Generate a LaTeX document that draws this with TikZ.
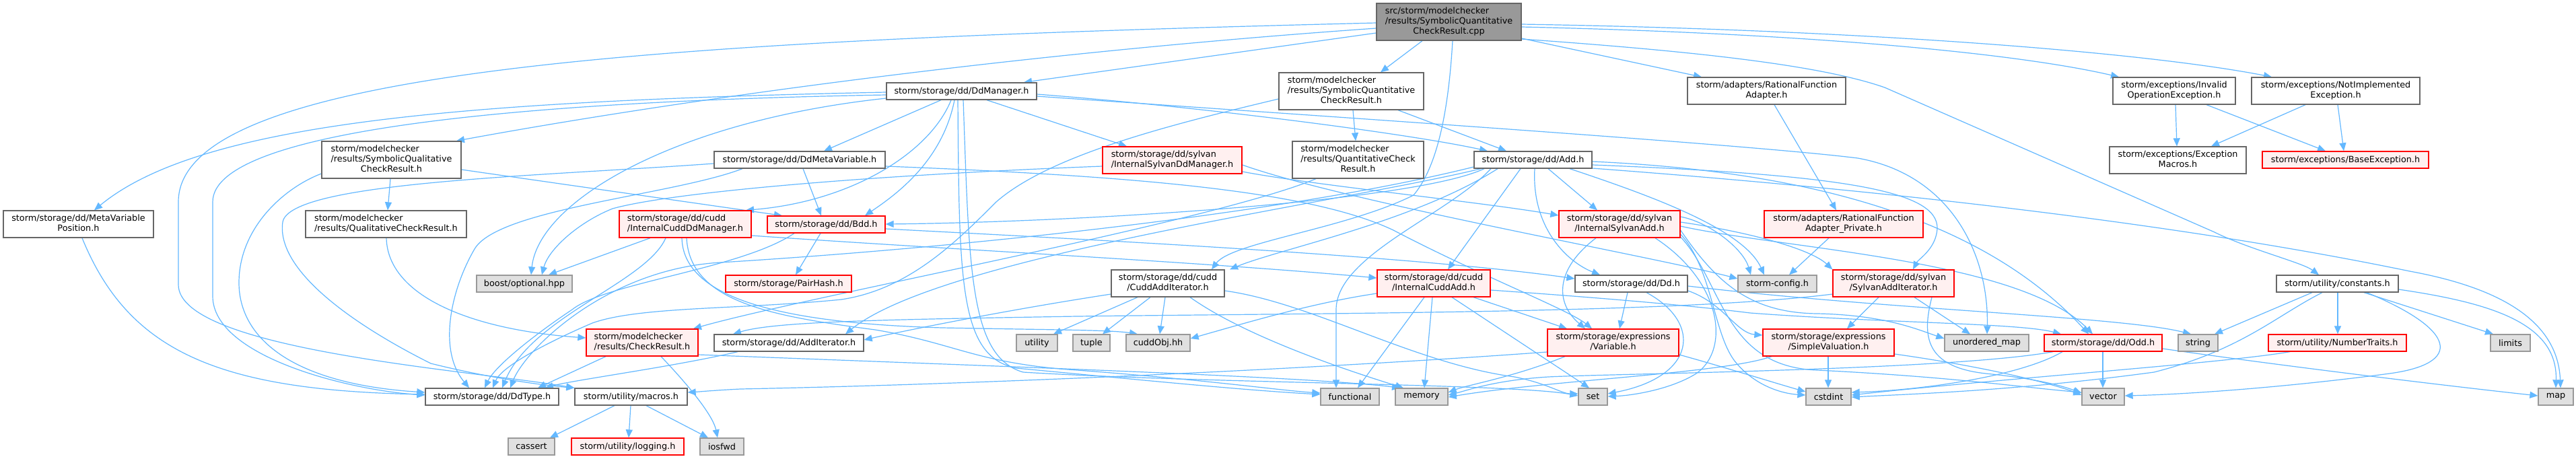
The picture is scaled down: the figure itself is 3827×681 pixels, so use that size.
\documentclass[tikz,border=0pt]{standalone}
\usepackage{fontspec}
\setmainfont{DejaVu Sans}
\usetikzlibrary{arrows.meta}
\definecolor{ec}{HTML}{63B8FF}
\definecolor{bc}{HTML}{666666}
\definecolor{gbc}{HTML}{999999}
\definecolor{gfc}{HTML}{E0E0E0}
\definecolor{rfc}{HTML}{FFF0F0}
\definecolor{rootf}{HTML}{999999}
\newcommand\fsz{\fontsize{6.4}{7.5}\selectfont}
\newcommand\mlab[2]{\begin{tabular}{@{}l@{}}#1\\\multicolumn{1}{@{}c@{}}{#2}\end{tabular}}
\newcommand\nd[7]{\node[#2, minimum width={(#5-#3)*0.5pt}, minimum height={(#6-#4)*0.5pt}] (#1) at ({(#3+#5)/2},{-(#4+#6)/2}) {#7};}
\pgfdeclarelayer{bg}
\pgfsetlayers{bg,main}
\begin{document}
\begin{tikzpicture}[x=0.5pt,y=0.5pt,
  nbase/.style={rectangle, line width=0.65pt, inner sep=0pt, font=\fsz, text=black},
  nbox/.style={nbase, draw=bc, fill=white},
  nred/.style={nbase, draw=red, fill=rfc},
  ngray/.style={nbase, draw=gbc, fill=gfc},
  nroot/.style={nbase, draw=bc, fill=rootf},
  lnk/.style={draw=ec, line width=0.6pt, -{Triangle[length=6pt,width=5pt]}}]
\useasboundingbox (0,0) rectangle (3827,-681);
% nodes
\nd{root}{nroot}{2045}{5}{2260}{60}{\mlab{src/storm/modelchecker\\/results/SymbolicQuantitative}{CheckResult.cpp}}
\nd{ddman}{nbox}{1317}{123}{1540}{148}{storm/storage/dd/DdManager.h}
\nd{sqch}{nbox}{1900}{108}{2115}{163}{\mlab{storm/modelchecker\\/results/SymbolicQuantitative}{CheckResult.h}}
\nd{rfa}{nbox}{2507}{115}{2742}{155}{\mlab{storm/adapters/RationalFunction}{Adapter.h}}
\nd{invop}{nbox}{3139}{115}{3321}{155}{\mlab{storm/exceptions/Invalid}{OperationException.h}}
\nd{notimpl}{nbox}{3345}{115}{3595}{155}{\mlab{storm/exceptions/NotImplemented}{Exception.h}}
\nd{sqlh}{nbox}{478}{210}{685}{265}{\mlab{storm/modelchecker\\/results/SymbolicQualitative}{CheckResult.h}}
\nd{ddmv}{nbox}{1061}{225}{1315}{250}{storm/storage/dd/DdMetaVariable.h}
\nd{isddm}{nred}{1638}{218}{1845}{258}{\mlab{storm/storage/dd/sylvan}{/InternalSylvanDdManager.h}}
\nd{qch}{nbox}{1920}{210}{2115}{265}{\mlab{storm/modelchecker\\/results/QuantitativeCheck}{Result.h}}
\nd{add}{nbox}{2190}{225}{2365}{250}{storm/storage/dd/Add.h}
\nd{exmac}{nbox}{3134}{218}{3337}{258}{\mlab{storm/exceptions/Exception}{Macros.h}}
\nd{baseex}{nred}{3361}{225}{3608}{250}{storm/exceptions/BaseException.h}
\nd{mvp}{nbox}{5}{313}{228}{353}{\mlab{storm/storage/dd/MetaVariable}{Position.h}}
\nd{qlch}{nbox}{454}{313}{693}{353}{\mlab{storm/modelchecker}{/results/QualitativeCheckResult.h}}
\nd{icddm}{nred}{920}{313}{1116}{353}{\mlab{storm/storage/dd/cudd}{/InternalCuddDdManager.h}}
\nd{bdd}{nred}{1140}{321}{1315}{346}{storm/storage/dd/Bdd.h}
\nd{isadd}{nred}{2316}{313}{2496}{353}{\mlab{storm/storage/dd/sylvan}{/InternalSylvanAdd.h}}
\nd{rfap}{nred}{2621}{313}{2857}{353}{\mlab{storm/adapters/RationalFunction}{Adapter\_Private.h}}
\nd{boost}{ngray}{708}{409}{850}{434}{boost/optional.hpp}
\nd{pair}{nred}{1078}{409}{1265}{434}{storm/storage/PairHash.h}
\nd{cai}{nbox}{1651}{401}{1819}{441}{\mlab{storm/storage/dd/cudd}{/CuddAddIterator.h}}
\nd{icadd}{nred}{2046}{401}{2214}{441}{\mlab{storm/storage/dd/cudd}{/InternalCuddAdd.h}}
\nd{dd}{nbox}{2340}{409}{2507}{434}{storm/storage/dd/Dd.h}
\nd{cfg}{ngray}{2582}{409}{2699}{434}{storm-config.h}
\nd{sai}{nred}{2723}{401}{2903}{441}{\mlab{storm/storage/dd/sylvan}{/SylvanAddIterator.h}}
\nd{const}{nbox}{3382}{409}{3563}{434}{storm/utility/constants.h}
\nd{chk}{nred}{871}{489}{1037}{529}{\mlab{storm/modelchecker}{/results/CheckResult.h}}
\nd{ai}{nbox}{1061}{497}{1283}{522}{storm/storage/dd/AddIterator.h}
\nd{util}{ngray}{1510}{497}{1571}{522}{utility}
\nd{tuple}{ngray}{1594}{497}{1649}{522}{tuple}
\nd{cuddobj}{ngray}{1673}{497}{1768}{522}{cuddObj.hh}
\nd{var}{nred}{2299}{489}{2494}{529}{\mlab{storm/storage/expressions}{/Variable.h}}
\nd{sval}{nred}{2619}{489}{2814}{529}{\mlab{storm/storage/expressions}{/SimpleValuation.h}}
\nd{umap}{ngray}{2889}{497}{3014}{522}{unordered\_map}
\nd{odd}{nred}{3037}{497}{3212}{522}{storm/storage/dd/Odd.h}
\nd{string}{ngray}{3236}{497}{3295}{522}{string}
\nd{numtr}{nred}{3370}{497}{3575}{522}{storm/utility/NumberTraits.h}
\nd{limits}{ngray}{3700}{497}{3759}{522}{limits}
\nd{ddtype}{nbox}{632}{577}{830}{602}{storm/storage/dd/DdType.h}
\nd{macros}{nbox}{854}{577}{1021}{602}{storm/utility/macros.h}
\nd{func}{ngray}{1962}{577}{2049}{602}{functional}
\nd{mem}{ngray}{2073}{577}{2151}{602}{memory}
\nd{set}{ngray}{2345}{577}{2388}{602}{set}
\nd{cstdint}{ngray}{2683}{577}{2750}{602}{cstdint}
\nd{vector}{ngray}{3093}{577}{3156}{602}{vector}
\nd{map}{ngray}{3771}{577}{3823}{602}{map}
\nd{cassert}{ngray}{755}{651}{824}{676}{cassert}
\nd{logging}{nred}{849}{651}{1016}{676}{storm/utility/logging.h}
\nd{iosfwd}{ngray}{1040}{651}{1105}{676}{iosfwd}
\begin{pgfonlayer}{bg}
\fill[white] (0,0) rectangle (3827,-681);
% root
\draw[lnk] (root.south -| 2113,0) -- (sqch.north -| 2051,0);
\draw[lnk] (root.west |- 0,-49) -- (ddman.north -| 1521,0);
\draw[lnk] (root.west |- 0,-42) .. controls (1500,-80) and (1000,-150) .. (sqlh.north -| 678,0);
\draw[lnk] (root.west |- 0,-34) .. controls (1000,-60) and (265,-100) .. (265,-300) -- (265,-423) .. controls (265,-520) and (700,-550) .. (macros.north west);
\draw[lnk] (root.south -| 2158,0) .. controls (2150,-200) and (2125,-260) .. (2100,-290) .. controls (2000,-340) and (1830,-360) .. (cai.north -| 1800,0);
\draw[lnk] (root.east |- 0,-57) -- (rfa.north -| 2528,0);
\draw[lnk] (root.east |- 0,-40) .. controls (2700,-50) and (3000,-80) .. (invop.north -| 3148,0);
\draw[lnk] (root.east |- 0,-36) .. controls (2800,-45) and (3200,-80) .. (notimpl.north -| 3375,0);
\draw[lnk] (root.east |- 0,-58) .. controls (2500,-75) and (2700,-95) .. (2800,-130) -- (3290,-345) .. controls (3340,-370) and (3420,-390) .. (const.north -| 3445,0);
% ddman
\draw[lnk] (ddman.west |- 0,-137) .. controls (700,-150) and (300,-180) .. (mvp.north -| 140,0);
\draw[lnk] (ddman.west |- 0,-141) .. controls (800,-150) and (316,-190) .. (316,-300) -- (316,-440) .. controls (316,-530) and (520,-580) .. (ddtype.west |- 0,-587);
\draw[lnk] (ddman.south -| 1398,0) -- (ddmv.north -| 1224,0);
\draw[lnk] (ddman.south -| 1466,0) -- (isddm.north -| 1674,0);
\draw[lnk] (ddman.east |- 0,-140) .. controls (1800,-160) and (2100,-200) .. (add.north -| 2210,0);
\draw[lnk] (ddman.south -| 1413,0) .. controls (1380,-230) and (1260,-300) .. (icddm.north -| 1108,0);
\draw[lnk] (ddman.south -| 1418,0) .. controls (1400,-240) and (1330,-290) .. (bdd.north -| 1285,0);
\draw[lnk] (ddman.west |- 0,-146) .. controls (1000,-180) and (800,-300) .. (boost.north -| 789,0);
\draw[lnk] (ddman.east |- 0,-143) .. controls (2000,-175) and (2600,-215) .. (2760,-235) .. controls (2900,-260) and (2955,-380) .. (umap.north -| 2952,0);
\draw[lnk] (ddman.south -| 1423,0) .. controls (1425,-420) and (1425,-530) .. (1510,-547) .. controls (1700,-565) and (1850,-580) .. (func.west |- 0,-586);
\draw[lnk] (ddman.south -| 1431,0) .. controls (1440,-400) and (1440,-530) .. (1520,-553) .. controls (1800,-570) and (2250,-570) .. (set.west |- 0,-588);
% sqch
\draw[lnk] (sqch.south -| 2010,0) -- (qch.north -| 2014,0);
\draw[lnk] (sqch.south -| 2077,0) -- (add.north -| 2238,0);
\draw[lnk] (sqch.west |- 0,-147) .. controls (1740,-185) and (1560,-230) .. (1480,-300) .. controls (1420,-360) and (1350,-430) .. (1250,-445) .. controls (1100,-460) and (950,-455) .. (880,-480) .. controls (810,-510) and (745,-545) .. (ddtype.north -| 732,0);
% sqlh
\draw[lnk] (sqlh.south -| 580,0) -- (qlch.north -| 576,0);
\draw[lnk] (sqlh.east |- 0,-252) -- (bdd.north -| 1162,0);
\draw[lnk] (sqlh.west |- 0,-258) .. controls (420,-280) and (355,-340) .. (355,-420) .. controls (355,-500) and (430,-570) .. (ddtype.west |- 0,-583);
% ddmv
\draw[lnk] (ddmv.south -| 1193,0) -- (bdd.north -| 1220,0);
\draw[lnk] (ddmv.south -| 1103,0) .. controls (1000,-290) and (740,-310) .. (705,-370) .. controls (670,-430) and (650,-520) .. (ddtype.north -| 697,0);
\draw[lnk] (ddmv.east |- 0,-247) .. controls (1700,-262) and (1950,-285) .. (2070,-342) .. controls (2200,-410) and (2330,-460) .. (var.north -| 2365,0);
\draw[lnk] (ddmv.west |- 0,-243) .. controls (800,-262) and (430,-270) .. (420,-330) .. controls (410,-400) and (520,-480) .. (640,-540) .. controls (720,-560) and (800,-572) .. (macros.north west);
% isddm
\draw[lnk] (isddm.west |- 0,-247) .. controls (1300,-260) and (1000,-285) .. (910,-310) .. controls (860,-330) and (815,-370) .. (boost.north -| 805,0);
\draw[lnk] (isddm.east |- 0,-255) .. controls (1950,-275) and (2200,-300) .. (isadd.west |- 0,-320);
\draw[lnk] (isddm.east |- 0,-245) .. controls (2000,-300) and (2450,-380) .. (cfg.west |- 0,-414);
% qch qlch mvp
\draw[lnk] (qch.south -| 1955,0) .. controls (1800,-330) and (1200,-440) .. (chk.north -| 1030,0);
\draw[lnk] (qlch.south -| 574,0) .. controls (576,-440) and (700,-490) .. (chk.west |- 0,-502);
\draw[lnk] (mvp.south -| 122,0) .. controls (190,-520) and (320,-580) .. (ddtype.west |- 0,-586);
% add
\draw[lnk] (add.south -| 2205,0) .. controls (2100,-300) and (1600,-330) .. (bdd.east |- 0,-333);
\draw[lnk] (add.south -| 2259,0) -- (icadd.north -| 2151,0);
\draw[lnk] (add.south -| 2280,0) .. controls (2275,-340) and (2330,-390) .. (dd.north -| 2377,0);
\draw[lnk] (add.south -| 2300,0) -- (isadd.north -| 2373,0);
\draw[lnk] (add.south -| 2225,0) .. controls (2100,-330) and (1900,-370) .. (cai.north -| 1827,0);
\draw[lnk] (add.east |- 0,-245) .. controls (2750,-260) and (2880,-285) .. (2878,-340) .. controls (2876,-370) and (2850,-385) .. (sai.north -| 2842,0);
\draw[lnk] (add.east |- 0,-240) .. controls (2700,-255) and (2950,-330) .. (odd.north -| 3103,0);
\draw[lnk] (add.south -| 2332,0) .. controls (2450,-290) and (2590,-340) .. (cfg.north -| 2621,0);
\draw[lnk] (add.south -| 2200,0) .. controls (2000,-300) and (1400,-380) .. (ai.north -| 1256,0);
\draw[lnk] (add.east |- 0,-250) .. controls (2900,-290) and (3300,-345) .. (3580,-403) .. controls (3700,-425) and (3800,-470) .. (map.north -| 3804,0);
\draw[lnk] (add.west |- 0,-248) .. controls (1900,-320) and (1400,-370) .. (1070,-390) .. controls (900,-400) and (780,-520) .. (ddtype.north -| 758,0);
\draw[lnk] (add.south -| 2215,0) .. controls (2150,-320) and (1985,-380) .. (1985,-460) -- (func.north -| 1985,0);
% exceptions, adapters
\draw[lnk] (rfa.south -| 2636,0) -- (rfap.north -| 2728,0);
\draw[lnk] (invop.south -| 3232,0) -- (exmac.north -| 3234,0);
\draw[lnk] (invop.south -| 3278,0) -- (baseex.north -| 3455,0);
\draw[lnk] (notimpl.south -| 3425,0) -- (exmac.north -| 3285,0);
\draw[lnk] (notimpl.south -| 3473,0) -- (baseex.north -| 3482,0);
% icddm
\draw[lnk] (icddm.south -| 966,0) -- (boost.north -| 815,0);
\draw[lnk] (icddm.south -| 989,0) .. controls (960,-420) and (790,-470) .. (ddtype.north -| 746,0);
\draw[lnk] (icddm.east |- 0,-350) .. controls (1400,-370) and (1800,-390) .. (icadd.west |- 0,-413);
\draw[lnk] (icddm.south -| 1013,0) .. controls (1015,-440) and (1150,-480) .. (1400,-487) .. controls (1550,-490) and (1650,-490) .. (cuddobj.north -| 1690,0);
\draw[lnk] (icddm.south -| 1020,0) .. controls (1025,-450) and (1150,-470) .. (1300,-490) .. controls (1420,-510) and (1450,-540) .. (1600,-550) .. controls (1800,-565) and (1900,-580) .. (func.west |- 0,-584);
% bdd
\draw[lnk] (bdd.south -| 1219,0) -- (pair.north -| 1182,0);
\draw[lnk] (bdd.east |- 0,-340) .. controls (1600,-355) and (2100,-380) .. (dd.west |- 0,-414);
\draw[lnk] (bdd.south -| 1180,0) .. controls (1100,-400) and (900,-420) .. (850,-460) .. controls (790,-500) and (735,-545) .. (ddtype.north -| 720,0);
% isadd
\draw[lnk] (isadd.south -| 2371,0) .. controls (2310,-400) and (2310,-450) .. (var.north -| 2355,0);
\draw[lnk] (isadd.south -| 2459,0) .. controls (2560,-420) and (2570,-520) .. (2520,-555) .. controls (2480,-580) and (2420,-588) .. (set.east |- 0,-589);
\draw[lnk] (isadd.east |- 0,-322) .. controls (2540,-330) and (2590,-370) .. (cfg.north -| 2601,0);
\draw[lnk] (isadd.east |- 0,-330) .. controls (2600,-345) and (2690,-370) .. (sai.north west);
\draw[lnk] (isadd.east |- 0,-336) .. controls (2650,-370) and (3000,-385) .. (odd.north -| 3109,0);
\draw[lnk] (isadd.east |- 0,-342) .. controls (2550,-420) and (2600,-465) .. (2700,-466) .. controls (2800,-468) and (2850,-490) .. (umap.west |- 0,-503);
\draw[lnk] (isadd.east |- 0,-348) .. controls (2545,-400) and (2545,-500) .. (2580,-540) .. controls (2610,-575) and (2650,-585) .. (cstdint.west |- 0,-587);
\draw[lnk] (isadd.east |- 0,-352) .. controls (2560,-420) and (2560,-545) .. (2700,-550) .. controls (2900,-560) and (3000,-575) .. (vector.west |- 0,-583);
% dd
\draw[lnk] (dd.south -| 2418,0) -- (var.north -| 2406,0);
\draw[lnk] (dd.south -| 2446,0) .. controls (2530,-480) and (2520,-560) .. (set.east |- 0,-585);
\draw[lnk] (dd.east |- 0,-425) .. controls (2800,-460) and (3150,-470) .. (string.north -| 3255,0);
\draw[lnk] (dd.east |- 0,-432) .. controls (2560,-450) and (2580,-495) .. (sval.west |- 0,-498);
% icadd
\draw[lnk] (icadd.west |- 0,-436) .. controls (1950,-450) and (1850,-480) .. (cuddobj.east |- 0,-503);
\draw[lnk] (icadd.south -| 2116,0) -- (func.north -| 2017,0);
\draw[lnk] (icadd.south -| 2128,0) -- (mem.north -| 2116,0);
\draw[lnk] (icadd.south -| 2157,0) -- (set.north -| 2361,0);
\draw[lnk] (icadd.south -| 2189,0) -- (var.north -| 2328,0);
\draw[lnk] (icadd.east |- 0,-431) .. controls (2400,-444) and (2520,-455) .. (2600,-465) .. controls (2800,-480) and (3000,-480) .. (odd.north -| 3062,0);
% cai
\draw[lnk] (cai.south -| 1690,0) -- (util.north -| 1565,0);
\draw[lnk] (cai.south -| 1709,0) -- (tuple.north -| 1638,0);
\draw[lnk] (cai.south -| 1731,0) -- (cuddobj.north -| 1723,0);
\draw[lnk] (cai.west |- 0,-437) .. controls (1500,-460) and (1350,-490) .. (ai.east |- 0,-505);
\draw[lnk] (cai.south -| 1768,0) .. controls (1850,-500) and (2000,-550) .. (mem.north -| 2085,0);
\draw[lnk] (cai.east |- 0,-432) .. controls (1950,-450) and (2100,-540) .. (2250,-560) .. controls (2300,-570) and (2320,-585) .. (set.west |- 0,-585);
% sai
\draw[lnk] (sai.south -| 2791,0) -- (sval.north -| 2744,0);
\draw[lnk] (sai.south -| 2844,0) -- (umap.north -| 2927,0);
\draw[lnk] (sai.west |- 0,-437) .. controls (2500,-465) and (2000,-465) .. (1600,-470) .. controls (1300,-475) and (1150,-478) .. (ai.north -| 1089,0);
\draw[lnk] (sai.south -| 2870,0) .. controls (2855,-500) and (2860,-545) .. (2950,-555) .. controls (3020,-562) and (3060,-572) .. (vector.west |- 0,-584);
% const
\draw[lnk] (const.south -| 3435,0) -- (string.north -| 3290,0);
\draw[lnk] (const.south -| 3473,0) -- (numtr.north -| 3473,0);
\draw[lnk] (const.south -| 3512,0) -- (limits.north -| 3704,0);
\draw[lnk] (const.east |- 0,-430) .. controls (3700,-450) and (3800,-480) .. (map.north -| 3797,0);
\draw[lnk] (const.south -| 3450,0) .. controls (3380,-470) and (3330,-520) .. (3200,-553) .. controls (3000,-580) and (2850,-585) .. (cstdint.east |- 0,-590);
\draw[lnk] (const.south -| 3516,0) .. controls (3650,-490) and (3660,-540) .. (3550,-555) .. controls (3400,-575) and (3250,-586) .. (vector.east |- 0,-588);
% lower rows
\draw[lnk] (chk.south -| 900,0) -- (ddtype.north -| 799,0);
\draw[lnk] (chk.south -| 982,0) .. controls (1030,-580) and (1060,-620) .. (iosfwd.north -| 1066,0);
\draw[lnk] (chk.east |- 0,-527) .. controls (1500,-545) and (1950,-560) .. (mem.north -| 2080,0);
\draw[lnk] (ai.south -| 1096,0) .. controls (1000,-545) and (850,-565) .. (ddtype.north -| 810,0);
\draw[lnk] (var.south -| 2325,0) .. controls (2250,-560) and (2180,-572) .. (mem.east |- 0,-583);
\draw[lnk] (var.west |- 0,-523) .. controls (2000,-545) and (1500,-570) .. (1100,-578) .. controls (1060,-580) and (1040,-582) .. (macros.east |- 0,-583);
\draw[lnk] (var.east |- 0,-527) .. controls (2560,-545) and (2640,-570) .. (cstdint.west |- 0,-582);
\draw[lnk] (sval.south -| 2716,0) -- (cstdint.north -| 2716,0);
\draw[lnk] (sval.east |- 0,-526) .. controls (2950,-545) and (3050,-570) .. (vector.west |- 0,-587);
\draw[lnk] (sval.south -| 2632,0) .. controls (2560,-555) and (2300,-565) .. (mem.east |- 0,-590);
\draw[lnk] (odd.south -| 3124,0) -- (vector.north -| 3124,0);
\draw[lnk] (odd.east |- 0,-518) .. controls (3400,-545) and (3650,-575) .. (map.west |- 0,-588);
\draw[lnk] (odd.south -| 3064,0) .. controls (3000,-560) and (2850,-580) .. (cstdint.east |- 0,-583);
\draw[lnk] (odd.south -| 3050,0) .. controls (2900,-550) and (2400,-555) .. (2300,-560) .. controls (2220,-565) and (2180,-580) .. (mem.east |- 0,-587);
\draw[lnk] (numtr.south -| 3402,0) .. controls (3300,-540) and (3000,-560) .. (cstdint.east |- 0,-587);
\draw[lnk] (macros.south -| 913,0) -- (cassert.north -| 817,0);
\draw[lnk] (macros.south -| 937,0) -- (logging.north -| 934,0);
\draw[lnk] (macros.south -| 960,0) -- (iosfwd.north -| 1052,0);
\draw[lnk] (rfap.south -| 2717,0) -- (cfg.north -| 2658,0);
\end{pgfonlayer}
\end{tikzpicture}
\end{document}
